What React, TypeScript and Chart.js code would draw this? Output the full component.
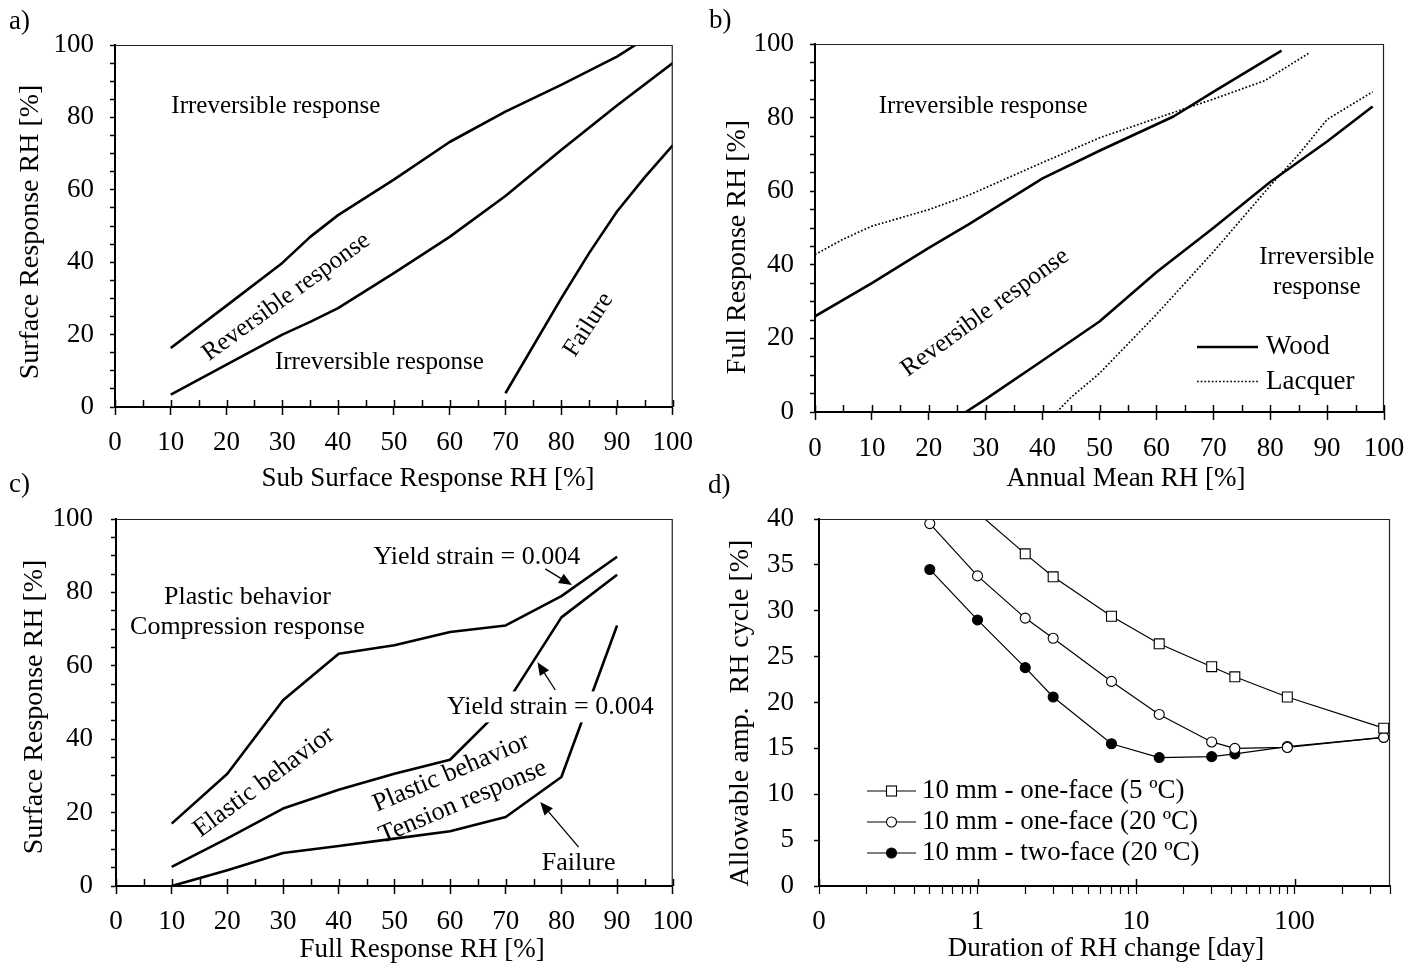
import React, { useEffect, useRef } from 'react';
import { Chart, registerables } from 'chart.js';

Chart.register(...registerables);

const SERIF = '"Liberation Serif", "Times New Roman", Times, serif';

// ---------------- a) data ----------------
const aUpperX = [10, 20, 30, 35, 40, 50, 60, 70, 80, 90, 93.3];
const aUpperY = [16.3, 28, 39.8, 47, 53, 62.8, 73.2, 81.6, 89, 96.8, 100];
const aMiddleX = [10, 20, 30, 35, 40, 50, 60, 70, 80, 90, 100];
const aMiddleY = [3.4, 11.7, 20, 23.5, 27.3, 37, 47, 58.3, 71, 83.3, 95];
const aFailureX = [70, 80, 85, 90, 95, 100];
const aFailureY = [3.8, 30, 42.5, 54, 63.5, 72.3];

// ---------------- b) data ----------------
const bSeriesNames = ['Wood', 'Lacquer'];
const bWoodUpperX = [0, 10, 20, 27, 40, 50, 63, 70, 82];
const bWoodUpperY = [26, 35, 44.6, 51, 63.5, 71, 80.3, 87, 98.2];
const bLacquerUpperX = [0, 5, 10, 20, 27, 40, 50, 63, 70, 79, 87];
const bLacquerUpperY = [42.8, 47, 50.5, 55, 58.9, 67.8, 74.5, 81.4, 85, 90, 97.7];
const bWoodLowerX = [26.5, 30, 40, 50, 60, 70, 80, 90, 98];
const bWoodLowerY = [0, 3.5, 14, 24.6, 38, 50, 62.5, 73.5, 83];
const bLacquerLowerX = [42.5, 45, 50, 60, 70, 80, 85, 90, 98];
const bLacquerLowerY = [0, 4, 10.5, 26.5, 43.5, 61.5, 70, 79.5, 87];

// ---------------- c) data ----------------
const cX = [10, 20, 30, 40, 50, 60, 70, 80, 90];
const cTopY = [17, 30.6, 50.6, 63.3, 65.6, 69.2, 71, 79, 89.7];
const cMiddleY = [5.2, 13, 21.1, 26.2, 30.6, 34.4, 49.5, 73.2, 84.8];
const cBottomY = [0, 4.3, 9, 10.9, 12.9, 14.9, 18.8, 29.7, 71];

// ---------------- d) data ----------------
const dSeriesNames = ['10 mm - one-face (5 ºC)', '10 mm - one-face (20 ºC)', '10 mm - two-face (20 ºC)'];
const dSquareX = [1, 2, 3, 7, 14, 30, 42, 90, 365];
const dSquareY = [40.7, 36.2, 33.7, 29.4, 26.4, 23.9, 22.8, 20.6, 17.2];
const dCircleX = [0.5, 1, 2, 3, 7, 14, 30, 42, 90, 365];
const dOpenY = [39.5, 33.8, 29.2, 27.0, 22.3, 18.7, 15.7, 15.0, 15.1, 16.2];
const dFilledY = [34.5, 29.0, 23.8, 20.6, 15.5, 14.0, 14.1, 14.4, 15.2, 16.2];
const dXMajor = [0.1, 1, 10, 100];
const dXMajorLabels = ['0', '1', '10', '100'];
const dXMultipliers = [1, 2, 3, 4, 5, 6, 7, 8, 9];
const dXMax = 400;
const dXTicks: number[] = [];
dXMajor.forEach((dec) => dXMultipliers.forEach((m) => {
  const v = +(m * dec).toPrecision(3);
  if (v <= dXMax) dXTicks.push(v);
}));

// ---------------- helpers ----------------
type XY = { x: number; y: number };
const zip = (xs: number[], ys: number[]): XY[] => xs.map((x, i) => ({ x, y: ys[i] }));

const solid = (xs: number[], ys: number[]) => ({
  data: zip(xs, ys), borderColor: '#000', backgroundColor: '#000', borderWidth: 2.6,
  pointRadius: 0, tension: 0, fill: false, clip: 0, borderJoinStyle: 'round',
});
const dotted = (xs: number[], ys: number[]) => ({ ...solid(xs, ys), borderWidth: 1.7, borderDash: [1.7, 2.0], borderJoinStyle: 'miter' });
const marked = (xs: number[], ys: number[], style: string, fillColor: string, r: number) => ({
  data: zip(xs, ys), borderColor: '#000', backgroundColor: fillColor, borderWidth: 1.2,
  pointStyle: style, pointRadius: r, pointBackgroundColor: fillColor, pointBorderColor: '#000',
  pointBorderWidth: 1.1, tension: 0, fill: false, clip: 0,
});

type Rect = { left: number; top: number; width: number; height: number };
type Area = { left: number; top: number; right: number; bottom: number };
type Note = { text: string; x: number; y: number; rot?: number; size?: number; align?: CanvasTextAlign; bg?: boolean };
type Arrow = { x1: number; y1: number; x2: number; y2: number };
type PageText = { text: string; x: number; y: number; rot?: number; size?: number; align?: CanvasTextAlign };
type LegendRow = { label: string; kind: 'solid' | 'dotted' | 'square' | 'open' | 'filled'; y: number };
type Legend = { x1: number; x2: number; tx: number; rows: LegendRow[] };

type PanelSpec = {
  id: string;
  canvas: Rect;
  area: Area;
  datasets: any[];
  xType: 'linear' | 'log';
  yMax: number;
  yStep: number;
  yLabelEvery: number;
  xPad: number;
  yPad: number;
  notes: Note[];
  arrows: Arrow[];
  texts: PageText[];
  legend?: Legend;
};

const tickFont = { family: SERIF, size: 27 };

const panels: PanelSpec[] = [
  {
    id: 'a',
    canvas: { left: 0, top: 0, width: 705, height: 500 },
    area: { left: 115, top: 45, right: 677, bottom: 407 },
    datasets: [solid(aUpperX, aUpperY), solid(aMiddleX, aMiddleY), solid(aFailureX, aFailureY)],
    xType: 'linear', yMax: 100, yStep: 5, yLabelEvery: 20, xPad: 12, yPad: 16,
    notes: [
      { text: 'Irreversible response', x: 10.1, y: 82.9, align: 'left', size: 25 },
      { text: 'Reversible response', x: 30.7, y: 30.4, rot: 36, size: 25 },
      { text: 'Irreversible response', x: 47.4, y: 12.2, size: 25 },
      { text: 'Failure', x: 84.9, y: 22.7, rot: 57, size: 25 },
    ],
    arrows: [],
    texts: [
      { text: 'a)', x: 9, y: 22, align: 'left', size: 27 },
      { text: 'Sub Surface Response RH [%]', x: 428, y: 479, size: 27 },
      { text: 'Surface Response RH [%]', x: 30.5, y: 232, rot: 90, size: 28 },
    ],
  },
  {
    id: 'b',
    canvas: { left: 705, top: 0, width: 714, height: 500 },
    area: { left: 815, top: 44, right: 1384, bottom: 412 },
    datasets: [
      solid(bWoodUpperX, bWoodUpperY), dotted(bLacquerUpperX, bLacquerUpperY),
      solid(bWoodLowerX, bWoodLowerY), dotted(bLacquerLowerX, bLacquerLowerY),
    ],
    xType: 'linear', yMax: 100, yStep: 5, yLabelEvery: 20, xPad: 13, yPad: 16,
    notes: [
      { text: 'Irreversible response', x: 11.2, y: 83.1, align: 'left', size: 25 },
      { text: 'Reversible response', x: 29.9, y: 27, rot: 36, size: 25 },
      { text: 'Irreversible', x: 88.2, y: 42, size: 25 },
      { text: 'response', x: 88.2, y: 33.8, size: 25 },
    ],
    arrows: [],
    texts: [
      { text: 'b)', x: 709, y: 21, align: 'left', size: 27 },
      { text: 'Annual Mean RH [%]', x: 1126, y: 479, size: 27 },
      { text: 'Full Response RH [%]', x: 738, y: 247, rot: 90, size: 28 },
    ],
    legend: {
      x1: 1197, x2: 1258, tx: 1266,
      rows: [
        { label: bSeriesNames[0], kind: 'solid', y: 347 },
        { label: bSeriesNames[1], kind: 'dotted', y: 381.5 },
      ],
    },
  },
  {
    id: 'c',
    canvas: { left: 0, top: 470, width: 705, height: 499 },
    area: { left: 116, top: 519, right: 679, bottom: 886 },
    datasets: [solid(cX, cTopY), solid(cX, cMiddleY), solid(cX, cBottomY)],
    xType: 'linear', yMax: 100, yStep: 5, yLabelEvery: 20, xPad: 12, yPad: 18,
    notes: [
      { text: 'Yield strain = 0.004', x: 64.8, y: 89.6, size: 26 },
      { text: 'Plastic behavior', x: 23.6, y: 78.7, size: 26 },
      { text: 'Compression response', x: 23.6, y: 70.6, size: 26 },
      { text: 'Elastic behavior', x: 26.6, y: 28.3, rot: 36.5, size: 26 },
      { text: 'Plastic behavior', x: 60.2, y: 30.8, rot: 23, size: 26 },
      { text: 'Tension response', x: 62.3, y: 22.9, rot: 23, size: 26 },
      { text: 'Yield strain = 0.004', x: 78, y: 48.8, size: 26, bg: true },
      { text: 'Failure', x: 83.1, y: 6.3, size: 26 },
    ],
    arrows: [
      { x1: 77.1, y1: 86.4, x2: 81.9, y2: 82 },
      { x1: 78.9, y1: 53.4, x2: 75.7, y2: 61 },
      { x1: 83.1, y1: 10.6, x2: 76.2, y2: 22.9 },
    ],
    texts: [
      { text: 'c)', x: 9, y: 485, align: 'left', size: 27 },
      { text: 'Full Response RH [%]', x: 422, y: 950, size: 27 },
      { text: 'Surface Response RH [%]', x: 35, y: 707, rot: 90, size: 28 },
    ],
  },
  {
    id: 'd',
    canvas: { left: 705, top: 470, width: 714, height: 499 },
    area: { left: 819, top: 519, right: 1390, bottom: 886 },
    datasets: [
      marked(dSquareX, dSquareY, 'rect', '#fff', 7),
      marked(dCircleX, dOpenY, 'circle', '#fff', 5),
      marked(dCircleX, dFilledY, 'circle', '#000', 5),
    ],
    xType: 'log', yMax: 40, yStep: 5, yLabelEvery: 5, xPad: 12, yPad: 20,
    notes: [],
    arrows: [],
    texts: [
      { text: 'd)', x: 708, y: 486, align: 'left', size: 27 },
      { text: 'Duration of RH change [day]', x: 1106, y: 949, size: 27 },
      { text: 'Allowable amp.  RH cycle [%]', x: 741, y: 713, rot: 90, size: 28 },
    ],
    legend: {
      x1: 867, x2: 916, tx: 922,
      rows: [
        { label: dSeriesNames[0], kind: 'square', y: 791 },
        { label: dSeriesNames[1], kind: 'open', y: 822 },
        { label: dSeriesNames[2], kind: 'filled', y: 853 },
      ],
    },
  },
];

function drawArrow(ctx: CanvasRenderingContext2D, x1: number, y1: number, x2: number, y2: number) {
  const ang = Math.atan2(y2 - y1, x2 - x1);
  const hl = 13;
  const hw = 5.5;
  const bx = x2 - hl * Math.cos(ang);
  const by = y2 - hl * Math.sin(ang);
  ctx.lineWidth = 1.3;
  ctx.beginPath();
  ctx.moveTo(x1, y1);
  ctx.lineTo(bx, by);
  ctx.stroke();
  ctx.beginPath();
  ctx.moveTo(x2, y2);
  ctx.lineTo(bx + hw * Math.sin(ang), by - hw * Math.cos(ang));
  ctx.lineTo(bx - hw * Math.sin(ang), by + hw * Math.cos(ang));
  ctx.closePath();
  ctx.fill();
}

function makeOverlay(spec: PanelSpec) {
  return {
    id: 'overlay_' + spec.id,
    afterDraw(chart: any) {
      const ctx = chart.ctx as CanvasRenderingContext2D;
      const { left, top, right, bottom } = chart.chartArea;
      const xs = chart.scales.x;
      const ys = chart.scales.y;
      const ox = spec.canvas.left;
      const oy = spec.canvas.top;
      ctx.save();
      ctx.strokeStyle = '#000';
      ctx.fillStyle = '#000';
      // frame (top and right)
      ctx.lineWidth = 1.2;
      ctx.strokeStyle = '#222';
      ctx.beginPath();
      ctx.moveTo(left, top + 0.5);
      ctx.lineTo(right - 0.5, top + 0.5);
      ctx.lineTo(right - 0.5, bottom);
      ctx.stroke();
      ctx.strokeStyle = '#000';
      // inward tick marks on x axis
      ctx.lineWidth = 1.5;
      for (const t of xs.ticks) {
        let draw = false;
        if (spec.xType === 'linear') draw = true;
        else draw = dXMajor.some((m) => Math.abs(m - t.value) < 1e-9);
        if (!draw) continue;
        const px = Math.round(xs.getPixelForValue(t.value)) + 0.5;
        ctx.beginPath();
        ctx.moveTo(px, bottom);
        ctx.lineTo(px, bottom - 7);
        ctx.stroke();
      }
      // annotations in data coordinates
      for (const n of spec.notes) {
        const px = xs.getPixelForValue(n.x);
        const py = ys.getPixelForValue(n.y);
        ctx.save();
        ctx.translate(px, py);
        ctx.rotate(-((n.rot || 0) * Math.PI) / 180);
        ctx.font = `${n.size || 25}px ${SERIF}`;
        ctx.textAlign = n.align || 'center';
        ctx.textBaseline = 'middle';
        if (n.bg) {
          const w = ctx.measureText(n.text).width;
          ctx.fillStyle = '#fff';
          ctx.fillRect(-w / 2 - 3, -15.5, w + 6, 31);
        }
        ctx.fillStyle = '#000';
        ctx.fillText(n.text, 0, 0);
        ctx.restore();
      }
      // arrows
      for (const a of spec.arrows) {
        drawArrow(ctx, xs.getPixelForValue(a.x1), ys.getPixelForValue(a.y1), xs.getPixelForValue(a.x2), ys.getPixelForValue(a.y2));
      }
      // legend
      if (spec.legend) {
        const lg = spec.legend;
        for (const r of lg.rows) {
          const y = r.y - oy;
          const x1 = lg.x1 - ox;
          const x2 = lg.x2 - ox;
          ctx.save();
          ctx.strokeStyle = '#000';
          if (r.kind === 'solid') { ctx.lineWidth = 2.6; }
          else if (r.kind === 'dotted') { ctx.lineWidth = 1.7; ctx.setLineDash([1.7, 2.0]); }
          else { ctx.lineWidth = 1.2; }
          ctx.beginPath();
          ctx.moveTo(x1, y);
          ctx.lineTo(x2, y);
          ctx.stroke();
          ctx.setLineDash([]);
          const cx = (x1 + x2) / 2;
          ctx.lineWidth = 1.1;
          if (r.kind === 'square') {
            ctx.fillStyle = '#fff';
            ctx.fillRect(cx - 5, y - 5, 10, 10);
            ctx.strokeRect(cx - 5, y - 5, 10, 10);
          } else if (r.kind === 'open' || r.kind === 'filled') {
            ctx.beginPath();
            ctx.arc(cx, y, 5, 0, Math.PI * 2);
            ctx.fillStyle = r.kind === 'open' ? '#fff' : '#000';
            ctx.fill();
            ctx.stroke();
          }
          ctx.fillStyle = '#000';
          ctx.font = `27px ${SERIF}`;
          ctx.textAlign = 'left';
          ctx.textBaseline = 'middle';
          ctx.fillText(r.label, lg.tx - ox, y);
          ctx.restore();
        }
      }
      // page texts (panel letter, axis titles)
      for (const t of spec.texts) {
        ctx.save();
        ctx.translate(t.x - ox, t.y - oy);
        ctx.rotate(-((t.rot || 0) * Math.PI) / 180);
        ctx.font = `${t.size || 27}px ${SERIF}`;
        ctx.textAlign = t.align || 'center';
        ctx.textBaseline = 'middle';
        ctx.fillStyle = '#000';
        ctx.fillText(t.text, 0, 0);
        ctx.restore();
      }
      ctx.restore();
    },
  };
}

function buildConfig(spec: PanelSpec): any {
  const c = spec.canvas;
  const a = spec.area;
  const padTop = a.top - c.top;
  const padRight = c.left + c.width - a.right;
  const yW = a.left - c.left;
  const xH = c.top + c.height - a.bottom;

  const border = { display: true, color: '#000', width: 2 };

  const xScale: any =
    spec.xType === 'linear'
      ? {
          type: 'linear', position: 'bottom', min: 0, max: 100,
          ticks: {
            stepSize: 5, autoSkip: false, maxRotation: 0, minRotation: 0, padding: spec.xPad,
            color: '#000', font: tickFont,
            callback: (v: number) => (v % 10 === 0 ? String(v) : ''),
          },
          grid: {
            drawOnChartArea: false, drawTicks: true, tickLength: 8, tickWidth: 1.5,
            tickColor: (ctx: any) => (ctx.tick && ctx.tick.value % 10 === 0 ? '#000' : 'rgba(0,0,0,0)'),
          },
          border,
          afterFit: (s: any) => { s.height = xH; },
        }
      : {
          type: 'logarithmic', position: 'bottom', min: dXMajor[0], max: dXMax,
          afterBuildTicks: (s: any) => { s.ticks = dXTicks.map((v) => ({ value: v })); },
          ticks: {
            autoSkip: false, maxRotation: 0, minRotation: 0, padding: spec.xPad,
            color: '#000', font: tickFont,
            callback: (v: number) => {
              const i = dXMajor.findIndex((m) => Math.abs(m - v) < 1e-9);
              return i >= 0 ? dXMajorLabels[i] : '';
            },
          },
          grid: { drawOnChartArea: false, drawTicks: true, tickLength: 8, tickWidth: 1.2, tickColor: '#000' },
          border,
          afterFit: (s: any) => { s.height = xH; },
        };

  const yScale: any = {
    type: 'linear', position: 'left', min: 0, max: spec.yMax,
    ticks: {
      stepSize: spec.yStep, autoSkip: false, padding: spec.yPad, color: '#000', font: tickFont,
      callback: (v: number) => (v % spec.yLabelEvery === 0 ? String(v) : ''),
    },
    grid: { drawOnChartArea: false, drawTicks: true, tickLength: 5, tickWidth: 1.5, tickColor: '#000' },
    border,
    afterFit: (s: any) => { s.width = yW; },
  };

  return {
    type: 'line',
    data: { datasets: spec.datasets },
    options: {
      responsive: false,
      maintainAspectRatio: false,
      animation: false,
      events: [],
      layout: { padding: { top: padTop, right: padRight, left: 0, bottom: 0 } },
      plugins: { legend: { display: false }, tooltip: { enabled: false }, title: { display: false } },
      scales: { x: xScale, y: yScale },
    },
    plugins: [makeOverlay(spec)],
  };
}

function Panel({ spec }: { spec: PanelSpec }) {
  const ref = useRef<HTMLCanvasElement>(null);
  useEffect(() => {
    if (!ref.current) return;
    const chart = new Chart(ref.current, buildConfig(spec));
    return () => chart.destroy();
  }, [spec]);
  const c = spec.canvas;
  return (
    <canvas
      ref={ref}
      width={c.width}
      height={c.height}
      style={{ position: 'absolute', left: c.left, top: c.top, width: c.width, height: c.height }}
    />
  );
}

export default function App() {
  return (
    <div style={{ position: 'absolute', left: 0, top: 0, width: 1419, height: 969, background: '#fff', overflow: 'hidden' }}>
      {panels.map((p) => (
        <Panel key={p.id} spec={p} />
      ))}
    </div>
  );
}
